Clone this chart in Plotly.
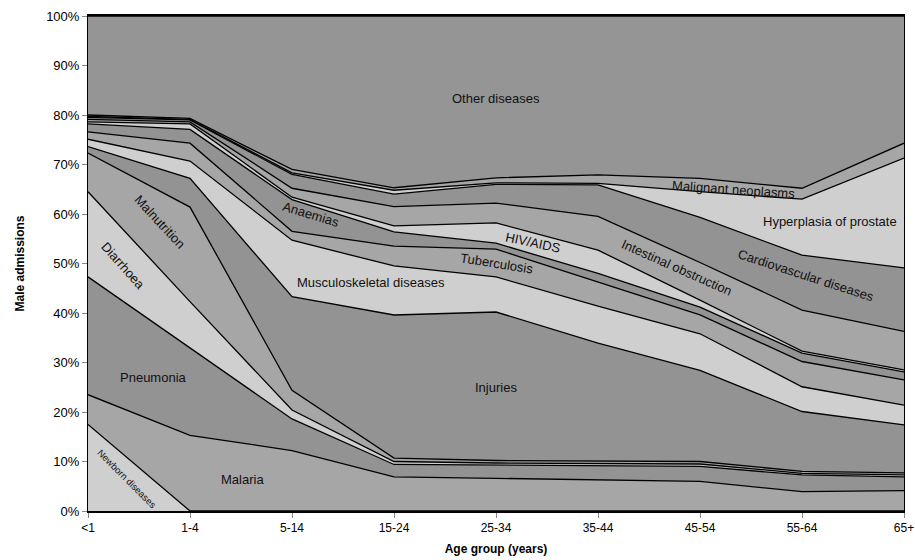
import plotly.graph_objects as go

categories = ['<1', '1-4', '5-14', '15-24', '25-34', '35-44', '45-54', '55-64', '65+']

# cumulative tops (% of male admissions) for each layer, bottom to top
newborn_top      = [17.5, 0.0, 0.0, 0.0, 0.0, 0.0, 0.0, 0.0, 0.0]
malaria_top      = [23.5, 15.3, 12.2, 6.9, 6.6, 6.3, 6.0, 3.9, 4.1]
pneumonia_top    = [47.3, 33.0, 18.6, 9.4, 9.3, 9.2, 9.0, 7.3, 6.9]
diarrhoea_top    = [64.5, 42.3, 20.4, 10.0, 9.7, 9.6, 9.5, 7.6, 7.3]
malnutrition_top = [72.3, 61.4, 24.4, 10.7, 10.2, 10.1, 10.0, 8.0, 7.7]
injuries_top     = [73.6, 67.2, 43.3, 39.6, 40.2, 33.9, 28.4, 20.1, 17.4]
musculo_top      = [75.1, 70.7, 54.7, 49.5, 47.3, 41.4, 35.8, 25.1, 21.4]
tb_top           = [76.6, 74.3, 56.5, 53.5, 52.9, 46.3, 39.6, 30.2, 26.5]
anaemias_top     = [78.2, 77.1, 62.9, 56.4, 54.1, 48.0, 41.2, 31.9, 28.1]
hiv_top          = [78.6, 78.2, 63.4, 57.6, 58.2, 52.7, 42.6, 32.3, 28.5]
intestinal_top   = [79.1, 78.6, 65.2, 61.5, 62.2, 59.5, 50.2, 40.6, 36.3]
cardio_top       = [79.5, 79.0, 68.0, 64.0, 66.0, 65.9, 59.3, 51.7, 49.1]
hyperplasia_top  = [79.7, 79.1, 68.3, 64.8, 66.3, 66.2, 64.5, 63.0, 71.3]
malignant_top    = [80.0, 79.3, 69.0, 65.3, 67.3, 67.9, 67.2, 65.2, 74.3]
other_top        = [100.0] * 9

series_names = ['Newborn diseases', 'Malaria', 'Pneumonia', 'Diarrhoea', 'Malnutrition',
                'Injuries', 'Musculoskeletal diseases', 'Tuberculosis', 'Anaemias',
                'HIV/AIDS', 'Intestinal obstruction', 'Cardiovascular diseases',
                'Hyperplasia of prostate', 'Malignant neoplasms', 'Other diseases']
series_tops = [newborn_top, malaria_top, pneumonia_top, diarrhoea_top, malnutrition_top,
               injuries_top, musculo_top, tb_top, anaemias_top, hiv_top, intestinal_top,
               cardio_top, hyperplasia_top, malignant_top, other_top]

LIGHT, MID, DARK = '#cfcfcf', '#a6a6a6', '#939393'
fills = [LIGHT, MID, DARK, LIGHT, MID, DARK, LIGHT, MID, DARK, LIGHT, MID, DARK, LIGHT, MID, '#959595']

xpos = list(range(len(categories)))
fig = go.Figure()
prev = [0.0] * len(categories)
for name, top, col in zip(series_names, series_tops, fills):
    vals = [max(t - p, 0.0) for t, p in zip(top, prev)]
    prev = top
    fig.add_trace(go.Scatter(
        x=xpos, y=vals, name=name, stackgroup='one', mode='lines',
        line=dict(color='black', width=1.3), fillcolor=col, hoverinfo='name+y'))

FONT = 'Liberation Sans, Arial, sans-serif'
labels = [
    ('Other diseases', 4.0, 83.4, 0, 13),
    ('Malignant neoplasms', 6.33, 64.9, 4, 13),
    ('Hyperplasia of prostate', 7.27, 58.4, 0, 13),
    ('Cardiovascular diseases', 7.04, 47.6, 18, 13),
    ('Intestinal obstruction', 5.77, 49.1, 24, 13),
    ('HIV/AIDS', 4.36, 54.2, 12, 13),
    ('Tuberculosis', 4.01, 50.0, 9, 13),
    ('Musculoskeletal diseases', 2.77, 46.1, 0, 13),
    ('Anaemias', 2.19, 60.0, 17, 13),
    ('Malnutrition', 0.70, 58.4, 47, 13),
    ('Diarrhoea', 0.34, 49.5, 48, 13),
    ('Pneumonia', 0.64, 26.9, 0, 13),
    ('Newborn diseases', 0.38, 6.6, 45, 9.5),
    ('Malaria', 1.51, 6.3, 0, 13),
    ('Injuries', 4.0, 25.0, 0, 13),
]
for text, x, y, ang, size in labels:
    fig.add_annotation(x=x, y=y, text=text, showarrow=False, textangle=ang,
                       font=dict(family=FONT, size=size, color='#111111'))

fig.update_layout(
    width=915, height=560,
    margin=dict(l=88, r=11, t=16, b=49, autoexpand=False),
    paper_bgcolor='white', plot_bgcolor='white',
    showlegend=False,
    font=dict(family=FONT, size=12, color='black'),
    xaxis=dict(range=[0, 8], tickvals=xpos, ticktext=categories, showgrid=False,
               zeroline=False, showline=True, linecolor='black', linewidth=1.5,
               mirror=True, ticks='outside', ticklen=5, tickcolor='#888888',
               automargin=False, tickfont=dict(size=12),
               title=dict(text='<b>Age group (years)</b>', font=dict(size=12), standoff=10)),
    yaxis=dict(range=[0, 100], tickvals=list(range(0, 101, 10)),
               ticktext=[f'{v}%' for v in range(0, 101, 10)], showgrid=False,
               zeroline=False, showline=True, linecolor='black', linewidth=1,
               mirror=True, ticks='outside', ticklen=5, tickcolor='#888888',
               automargin=False, tickfont=dict(size=13),
               title=dict(text='<b>Male admissions</b>', font=dict(size=12), standoff=18)),
)

fig.write_html('out.html', config={'displayModeBar': False},
               post_script="document.body.style.margin='0';document.body.style.overflow='hidden';")
